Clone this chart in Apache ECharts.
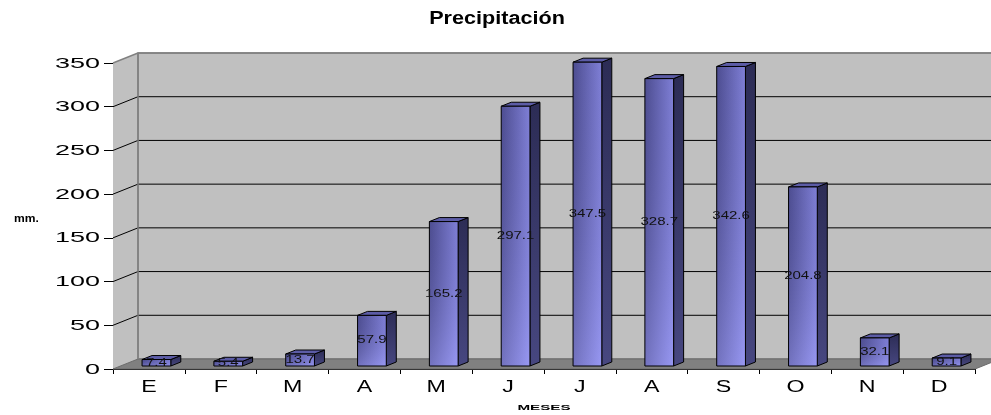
<!DOCTYPE html>
<html>
<head>
<meta charset="utf-8">
<script src="https://cdn.jsdelivr.net/npm/echarts@6/dist/echarts.min.js"></script>
<style>
  html, body { margin: 0; padding: 0; background: #fff; }
  #chart { width: 991px; height: 415px; }
</style>
</head>
<body>
<div id="chart"></div>
<script>
// Monthly precipitation (mm)
const months = ['E', 'F', 'M', 'A', 'M', 'J', 'J', 'A', 'S', 'O', 'N', 'D'];
const rainfall = [7.4, 5.4, 13.7, 57.9, 165.2, 297.1, 347.5, 328.7, 342.6, 204.8, 32.1, 9.1];
const yTicks = [0, 50, 100, 150, 200, 250, 300, 350];

// Pseudo-3D box: offset of the back plane relative to the front plane (px)
const DEPTH_X = 25, DEPTH_Y = -10;
// Bars occupy the middle part of the depth
const BAR_Z0 = 0.3, BAR_Z1 = 0.7;
const FONT = "'Liberation Sans', Arial, sans-serif";

// Left wall, back wall, floor and back gridlines
function renderWalls(params, api) {
  const cs = params.coordSys;
  const L = cs.x, R = cs.x + cs.width;
  const y0 = api.coord([0, yTicks[0]])[1];
  const yTop = api.coord([0, yTicks[yTicks.length - 1]])[1];
  const children = [];
  children.push({
    type: 'polygon',
    shape: { points: [[L, y0], [L, yTop], [L + DEPTH_X, yTop + DEPTH_Y], [L + DEPTH_X, y0 + DEPTH_Y]] },
    style: { fill: '#c0c0c0', stroke: null }
  });
  children.push({
    type: 'polygon',
    shape: { points: [[L + DEPTH_X, yTop + DEPTH_Y], [R + DEPTH_X, yTop + DEPTH_Y], [R + DEPTH_X, y0 + DEPTH_Y], [L + DEPTH_X, y0 + DEPTH_Y]] },
    style: { fill: '#c0c0c0', stroke: '#808080', lineWidth: 1.5 }
  });
  children.push({
    type: 'polygon',
    shape: { points: [[L, y0], [R, y0], [R + DEPTH_X, y0 + DEPTH_Y], [L + DEPTH_X, y0 + DEPTH_Y]] },
    style: { fill: '#808080', stroke: '#6a6a6a', lineWidth: 1 }
  });
  yTicks.forEach(function (t, k) {
    if (k === 0) return;
    const y = api.coord([0, t])[1];
    const top = k === yTicks.length - 1;
    const col = top ? '#808080' : '#000';
    children.push({
      type: 'line',
      shape: { x1: L, y1: y, x2: L + DEPTH_X, y2: y + DEPTH_Y },
      style: { stroke: col, lineWidth: top ? 1.5 : 1 }
    });
    children.push({
      type: 'line',
      shape: { x1: L + DEPTH_X, y1: y + DEPTH_Y, x2: R + DEPTH_X, y2: y + DEPTH_Y },
      style: { stroke: col, lineWidth: top ? 1.5 : 1 }
    });
  });
  children.push({
    type: 'line',
    shape: { x1: L + DEPTH_X, y1: yTop + DEPTH_Y, x2: L + DEPTH_X, y2: y0 + DEPTH_Y },
    style: { stroke: '#808080', lineWidth: 1.5 }
  });
  return { type: 'group', children: children };
}

// Prism bar with front, side and top faces plus a value label
function renderBar(params, api) {
  const i = api.value(0), v = api.value(1);
  const base = api.coord([i, 0]);
  const top = api.coord([i, v]);
  const band = api.size([1, 0])[0];
  const w = band * 0.4;
  const x0 = base[0] - w / 2 + DEPTH_X * BAR_Z0;
  const x1 = x0 + w;
  const yb = base[1] + DEPTH_Y * BAR_Z0;
  const yt = top[1] + DEPTH_Y * BAR_Z0;
  const dx = DEPTH_X * (BAR_Z1 - BAR_Z0), dy = DEPTH_Y * (BAR_Z1 - BAR_Z0);
  const h = Math.max(yb - yt, 0.5);
  return {
    type: 'group',
    children: [
      {
        type: 'polygon',
        shape: { points: [[x1, yb], [x1, yt], [x1 + dx, yt + dy], [x1 + dx, yb + dy]] },
        style: {
          fill: { type: 'linear', x: 0, y: 0, x2: 0, y2: 1, colorStops: [
            { offset: 0, color: '#2c2c55' }, { offset: 1, color: '#474780' }] },
          stroke: '#000', lineWidth: 1
        }
      },
      {
        type: 'polygon',
        shape: { points: [[x0, yt], [x1, yt], [x1 + dx, yt + dy], [x0 + dx, yt + dy]] },
        style: { fill: '#5c5ca6', stroke: '#000', lineWidth: 1 }
      },
      {
        type: 'rect',
        shape: { x: x0, y: yt, width: w, height: h },
        style: {
          fill: { type: 'linear', x: 0, y: 0, x2: 1, y2: 0, colorStops: [
            { offset: 0, color: '#55559c' }, { offset: 1, color: '#8e8eec' }] },
          stroke: null
        }
      },
      {
        type: 'rect',
        shape: { x: x0, y: yt, width: w, height: h },
        style: {
          fill: { type: 'linear', x: 0, y: 0, x2: 0, y2: 1, colorStops: [
            { offset: 0, color: 'rgba(20,20,60,0.12)' }, { offset: 1, color: 'rgba(170,170,255,0.35)' }] },
          stroke: '#000', lineWidth: 1
        }
      },
      {
        type: 'text',
        x: x0 + w / 2, y: (yb + yt) / 2,
        scaleX: 1.5,
        style: {
          x: 0, y: 0,
          text: String(v),
          fill: '#111', font: '10px ' + FONT,
          align: 'center', verticalAlign: 'middle'
        }
      }
    ]
  };
}

// Value-axis tick labels, drawn slightly widened
function renderYLabel(params, api) {
  const t = api.value(1);
  const p = api.coord([0, t]);
  return {
    type: 'text',
    x: params.coordSys.x - 13, y: p[1] + 0.5,
    scaleX: 1.8,
    style: { x: 0, y: 0, text: String(t), fill: '#000', font: '15px ' + FONT, align: 'right', verticalAlign: 'middle' }
  };
}

// Month labels under the category axis
function renderXLabel(params, api) {
  const i = api.value(0);
  const p = api.coord([i, 0]);
  return {
    type: 'text',
    x: p[0], y: p[1] + 18.5,
    scaleX: 1.45,
    style: { x: 0, y: 0, text: months[i], fill: '#000', font: '16px ' + FONT, align: 'center', verticalAlign: 'middle' }
  };
}

const chart = echarts.init(document.getElementById('chart'), null, { renderer: 'canvas' });
chart.setOption({
  animation: false,
  backgroundColor: '#fff',
  graphic: [
    {
      type: 'text', x: 497, y: 19, scaleX: 1.2,
      style: { x: 0, y: 0, text: 'Precipitación', fill: '#000', font: 'bold 18px ' + FONT, align: 'center', verticalAlign: 'middle' }
    },
    {
      type: 'text', x: 26.5, y: 219, scaleX: 1.1,
      style: { x: 0, y: 0, text: 'mm.', fill: '#000', font: 'bold 11px ' + FONT, align: 'center', verticalAlign: 'middle' }
    },
    {
      type: 'text', x: 544, y: 408, scaleX: 1.9,
      style: { x: 0, y: 0, text: 'MESES', fill: '#000', font: 'bold 8px ' + FONT, align: 'center', verticalAlign: 'middle' }
    }
  ],
  grid: { left: 113, right: 16, top: 63, bottom: 46, outerBoundsMode: 'none', containLabel: false },
  xAxis: {
    type: 'category',
    data: months,
    boundaryGap: true,
    axisLine: { lineStyle: { color: '#000', width: 1 } },
    axisTick: { show: true, length: 5, lineStyle: { color: '#000' } },
    axisLabel: { show: false },
    splitLine: { show: false }
  },
  yAxis: {
    type: 'value',
    min: 0, max: 350, interval: 50,
    axisLine: { show: true, lineStyle: { color: '#000', width: 1 } },
    axisTick: { show: true, length: 9, lineStyle: { color: '#000' } },
    axisLabel: { show: false },
    splitLine: { show: false }
  },
  series: [
    {
      type: 'custom',
      renderItem: renderWalls,
      data: [[0, 0]],
      z: 1,
      silent: true
    },
    {
      type: 'custom',
      renderItem: renderBar,
      data: rainfall.map(function (v, i) { return [i, v]; }),
      encode: { x: 0, y: 1 },
      z: 2
    },
    {
      type: 'custom',
      renderItem: renderYLabel,
      data: yTicks.map(function (t) { return [0, t]; }),
      encode: { x: 0, y: 1 },
      z: 3,
      silent: true
    },
    {
      type: 'custom',
      renderItem: renderXLabel,
      data: months.map(function (m, i) { return [i, 0]; }),
      encode: { x: 0, y: 1 },
      z: 3,
      silent: true
    }
  ]
});
</script>
</body>
</html>
